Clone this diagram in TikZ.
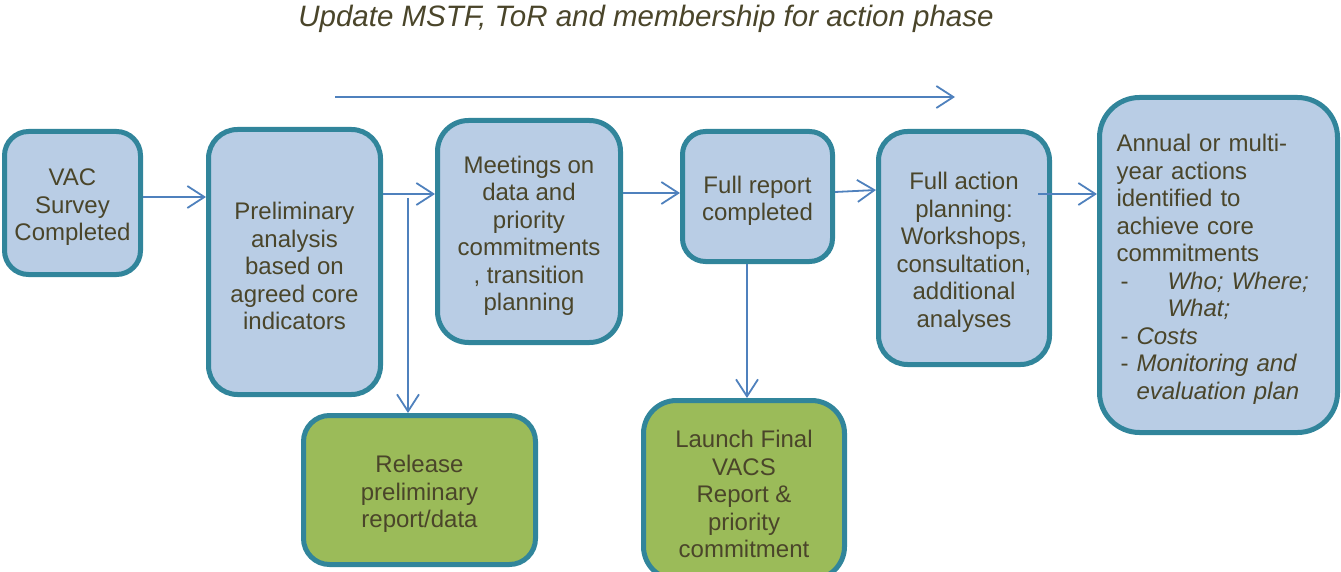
\documentclass[tikz,border=0pt]{standalone}
\usepackage{fontspec}
\setmainfont{Liberation Sans}
\usetikzlibrary{arrows.meta,calc}
\definecolor{boxblue}{RGB}{185,205,229}
\definecolor{boxgreen}{RGB}{155,187,89}
\definecolor{boxedge}{RGB}{49,133,155}
\definecolor{txt}{RGB}{74,69,42}
\definecolor{arrowblue}{RGB}{79,129,189}
\newcommand{\fl}{\rule{0pt}{25.5pt}}
\tikzset{
  procbox/.style={draw=boxedge, line width=5pt, fill=boxblue, text=txt,
    align=center, inner sep=0pt, font=\fontsize{24}{27.5}\selectfont},
  greenbox/.style={procbox, fill=boxgreen},
  arr/.style={draw=arrowblue, line width=1.8pt,
    -{Straight Barb[length=17pt,width=22pt,line width=1.8pt]}}
}
\begin{document}
\begin{tikzpicture}[x=1pt,y=-1pt]
\useasboundingbox (0,0) rectangle (1341,572);
\clip (0,0) rectangle (1341,572);

\node[anchor=base, text=txt, font=\fontsize{29.5}{33}\selectfont\itshape] (title) at (646,27)
  {Update MSTF, ToR and membership for action phase};

\node[procbox, minimum width=136pt, minimum height=143pt, rounded corners=24pt] (vac) at (72.5,203)
  {\fl VAC\\Survey\\Completed};
\node[procbox, minimum width=172pt, minimum height=265pt, rounded corners=29pt] (prelim) at (294.5,262)
  {\fl Preliminary\\analysis\\based on\\agreed core\\indicators};
\node[procbox, minimum width=183pt, minimum height=222pt, rounded corners=31pt] (meet) at (529,231.5)
  {\fl Meetings on\\data and\\priority\\commitments\\, transition\\planning};
\node[procbox, minimum width=150pt, minimum height=130pt, rounded corners=23pt] (full) at (757.5,196.5)
  {\fl Full report\\completed};
\node[procbox, minimum width=171pt, minimum height=233pt, rounded corners=29pt] (action) at (964,248)
  {\fl Full action\\planning:\\Workshops,\\consultation,\\additional\\analyses};
\node[procbox, minimum width=238pt, text width=204pt, minimum height=335pt, rounded corners=40pt,
      align=left, inner xsep=17pt] (annual) at (1218.5,265)
  {\fl Annual or multi-\\
   year actions\\
   identified to\\
   achieve core\\
   commitments\\
   \makebox[51pt][l]{\,-}\textit{Who; Where;}\\
   \hspace*{51pt}\textit{What;}\\
   \makebox[20pt][l]{\,-}\textit{Costs}\\
   \makebox[20pt][l]{\,-}\textit{Monitoring and}\\
   \hspace*{20pt}\textit{evaluation plan}};
\node[greenbox, minimum width=232pt, minimum height=149pt, rounded corners=26pt] (release) at (419.5,490)
  {\fl Release\\preliminary\\report/data};
\node[greenbox, minimum width=201pt, minimum height=179pt, rounded corners=33pt] (launch) at (744,490)
  {\fl Launch Final\\VACS\\Report \&\\priority\\commitment};

\coordinate (topL) at (335,97);
\coordinate (topR) at (955,97);
\coordinate (split) at (408,198);
\coordinate (actout) at (1038,194);

\draw[arr] (topL) -- (topR);
\draw[arr] (vac.east |- 0,197) -- (prelim.west |- 0,197);
\draw[arr] (prelim.east |- 0,194) -- (meet.west |- 0,194);
\draw[arr] (split) -- (release.north -| split);
\draw[arr] (meet.east |- 0,193) -- (full.west |- 0,193);
\draw[arr] (full.east |- 0,192) -- (action.west |- 0,190);
\draw[arr] (actout) -- (annual.west |- actout);
\draw[arr] (full.south -| 747,0) -- (launch.north -| 747,0);
\end{tikzpicture}
\end{document}
